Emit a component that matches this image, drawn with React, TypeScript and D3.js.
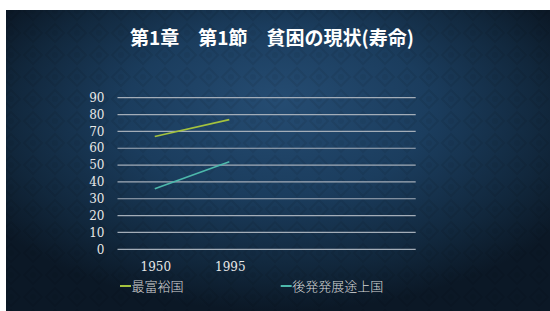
import React from "react";
import * as d3 from "d3";

const title = "第1章　第1節　貧困の現状(寿命)";
const categories = ["1950", "1995", "", " "];
const seriesNames = ["最富裕国", "後発発展途上国"];
const richest = [67, 77];
const leastDeveloped = [36, 52];
const yTicks = [0, 10, 20, 30, 40, 50, 60, 70, 80, 90];
const colors = ["#a4c23e", "#4db8ab"];

const W = 550;
const H = 311;

export default function App() {
  const x = d3.scaleBand<string>().domain(categories).range([117.5, 415.7]).paddingInner(0).paddingOuter(0);
  const y = d3.scaleLinear().domain([0, 90]).range([249.3, 97.7]);
  const line = d3
    .line<number>()
    .x((_, i) => (x(categories[i]) ?? 0) + x.bandwidth() / 2)
    .y((d) => y(d));
  const series = [richest, leastDeveloped];
  const legendX = [120, 280.7];

  return (
    <svg width={W} height={H} style={{ position: "absolute", left: 0, top: 0, display: "block" }}>
      <defs>
        <radialGradient id="bg" cx="0.5" cy="0.38" r="0.62" fx="0.5" fy="0.3">
          <stop offset="0%" stopColor="#254c72" />
          <stop offset="45%" stopColor="#1b3d5e" />
          <stop offset="80%" stopColor="#11273c" />
          <stop offset="100%" stopColor="#0b1826" />
        </radialGradient>
        <pattern id="dm" width="22" height="22" patternUnits="userSpaceOnUse">
          <path d="M11 2 L20 11 L11 20 L2 11 Z" fill="none" stroke="#000" strokeOpacity="0.07" strokeWidth="2" />
          <circle cx="11" cy="11" r="3" fill="#000" fillOpacity="0.05" />
        </pattern>
      </defs>
      <rect x={0} y={0} width={W} height={H} fill="#ffffff" />
      <rect x={6} y={10} width={W - 6} height={H - 10} fill="url(#bg)" />
      <rect x={6} y={10} width={W - 6} height={H - 10} fill="url(#dm)" />
      <text
        x={272}
        y={45}
        textAnchor="middle"
        fill="#ffffff"
        fontFamily="'Noto Sans CJK JP', sans-serif"
        fontWeight="bold"
        fontSize={19}
      >
        {title}
      </text>
      {yTicks.map((t) => (
        <g key={t}>
          <line x1={117.5} x2={415.7} y1={y(t)} y2={y(t)} stroke="#a3adb8" strokeWidth={1.2} />
          <text
            x={104.5}
            y={y(t) + 4.2}
            textAnchor="end"
            fill="#e8e8e8"
            fontFamily="'DejaVu Serif', serif"
            fontSize={12}
          >
            {t}
          </text>
        </g>
      ))}
      {categories.map((c) => (
        <text
          key={c}
          x={(x(c) ?? 0) + x.bandwidth() / 2 + 1}
          y={271}
          textAnchor="middle"
          fill="#e8e8e8"
          fontFamily="'DejaVu Serif', serif"
          fontSize={12}
        >
          {c.trim()}
        </text>
      ))}
      {series.map((s, i) => (
        <path key={i} d={line(s) ?? ""} fill="none" stroke={colors[i]} strokeWidth={1.6} />
      ))}
      {seriesNames.map((n, i) => (
        <g key={n}>
          <line x1={legendX[i]} x2={legendX[i] + 11} y1={286} y2={286} stroke={colors[i]} strokeWidth={2} />
          <text
            x={legendX[i] + 11.5}
            y={290.5}
            fill="#d8d8d8"
            fontFamily="'Noto Sans CJK JP', sans-serif"
            fontWeight={300}
            fontSize={13}
          >
            {n}
          </text>
        </g>
      ))}
    </svg>
  );
}
